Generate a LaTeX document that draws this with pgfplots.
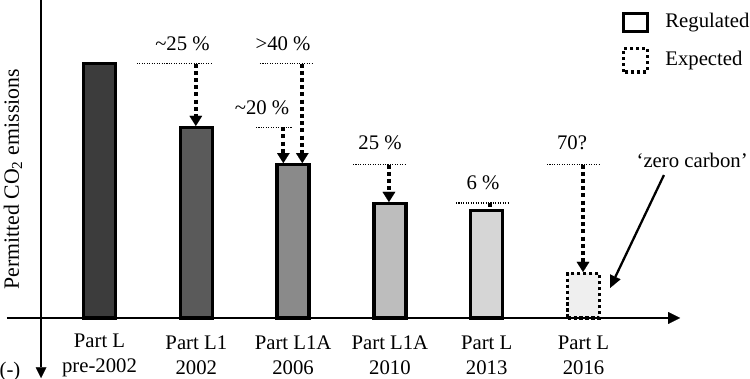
\documentclass[border=0pt]{standalone}
\usepackage{fontspec}
\setmainfont{Liberation Serif}
\usepackage{pgfplots}
\pgfplotsset{compat=1.18}
\usetikzlibrary{arrows.meta}
\definecolor{barA}{HTML}{3C3C3C}
\definecolor{barB}{HTML}{5A5A5A}
\definecolor{barC}{HTML}{8A8A8A}
\definecolor{barD}{HTML}{BDBDBD}
\definecolor{barE}{HTML}{D6D6D6}
\definecolor{barF}{HTML}{EFEFEF}
\begin{document}
\fontsize{11.8}{14.2}\selectfont
\begin{tikzpicture}[font=\fontsize{11.8}{14.2}\selectfont,
  thin dot/.style={line width=0.6pt, dash pattern=on 0.6pt off 0.8pt},
  big arrow/.style={line width=2.3pt, dash pattern=on 2.3pt off 1.8pt,
     -{Triangle[width=7.2pt,length=5.7pt,line width=0.01pt]}}]
\begin{axis}[
  scale only axis, width=15cm, height=7.58cm,
  xmin=-1.0279, xmax=6.72, ymin=-23.98, ymax=125,
  hide axis, ybar, bar width=0.33, clip=false,
]
\addplot[fill=barA, draw=black, line width=1.9pt, bar shift=0pt] coordinates {(0,100)};
\addplot[fill=barB, draw=black, line width=1.9pt, bar shift=0pt] coordinates {(1,74.8)};
\addplot[fill=barC, draw=black, line width=1.9pt, bar shift=0pt] coordinates {(2,60.3)};
\addplot[fill=barD, draw=black, line width=1.9pt, bar shift=0pt] coordinates {(3,45.0)};
\addplot[fill=barE, draw=black, line width=1.9pt, bar shift=0pt] coordinates {(4,42.2)};
\addplot[fill=barF, draw=black, line width=1.9pt, dash pattern=on 1.9pt off 1.5pt, bar shift=0pt] coordinates {(5,17.5)};

% axes
\draw[line width=1.5pt, -{Triangle[width=6.8pt,length=6.8pt,line width=0.01pt]}] (-0.956,0) -- (5.997,0);
\draw[line width=1.5pt, -{Triangle[width=6pt,length=6pt,line width=0.01pt]}] (-0.604,125) -- (-0.604,-23.6);

% dotted reference lines
\draw[thin dot] (0.387,100) -- (1.162,100);
\draw[thin dot] (1.658,100) -- (2.195,100);
\draw[thin dot] (1.617,75) -- (1.989,75);
\draw[thin dot] (2.619,60.3) -- (3.177,60.3);
\draw[thin dot] (3.683,45.2) -- (4.219,45.2);
\draw[thin dot] (4.623,60.3) -- (5.170,60.3);

% reduction arrows
\draw[big arrow] (0.995,100) -- (0.995,75.5);
\draw[big arrow] (2.095,100) -- (2.095,60.9);
\draw[big arrow] (1.899,75) -- (1.899,60.9);
\draw[big arrow] (2.990,60.3) -- (2.990,45.6);
\draw[line width=2.3pt] (4.03,45.2) -- (4.03,43.6);
\draw[big arrow] (4.995,60.3) -- (4.995,18.1);

% labels
\node at (0.857,107.7) {\textasciitilde25 \%};
\node at (1.896,107.7) {>40 \%};
\node at (1.679,82.5) {\textasciitilde20 \%};
\node at (2.898,68.8) {25 \%};
\node at (3.962,53.1) {6 \%};
\node at (4.881,68.8) {70?};
\node[anchor=east, inner sep=0pt] at (6.70,62.1) {‘zero carbon’};
\draw[line width=1.3pt, -{Triangle[width=6.5pt,length=7pt,line width=0.01pt]}] (5.831,56.2) -- (5.274,11.8);

% category labels
\node[align=center] at (0,-14.8) {Part L\\pre-2002};
\node[align=center] at (1,-14.8) {Part L1\\2002};
\node[align=center] at (2,-14.8) {Part L1A\\2006};
\node[align=center] at (3,-14.8) {Part L1A\\2010};
\node[align=center] at (4,-14.8) {Part L\\2013};
\node[align=center] at (5,-14.8) {Part L\\2016};
\node at (-0.925,-21.2) {(-)};
\node[rotate=90, font=\fontsize{12.4}{14.2}\selectfont] at (-0.894,54.5) {Permitted CO\textsubscript{2} emissions};

% legend
\draw[line width=2.1pt] (5.414,112.66) rectangle (5.660,119.65);
\draw[line width=2.1pt, dash pattern=on 1.9pt off 1.5pt] (5.414,96.7) rectangle (5.660,105.9);
\node[anchor=west, inner sep=0pt] at (5.842,115.96) {Regulated};
\node[anchor=west, inner sep=0pt] at (5.842,101.4) {Expected};
\end{axis}
\pgfresetboundingbox
\path[use as bounding box] (current axis.south west) rectangle (current axis.north east);
\end{tikzpicture}
\end{document}
